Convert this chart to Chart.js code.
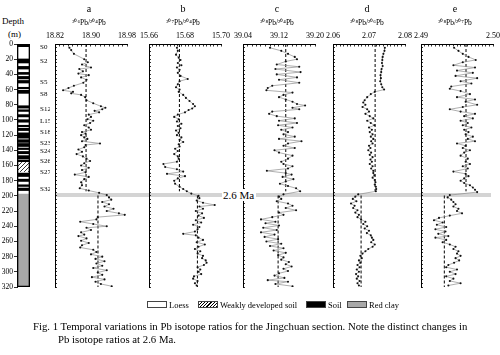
<!DOCTYPE html>
<html><head><meta charset="utf-8">
<script src="https://cdn.jsdelivr.net/npm/chart.js@4.4.1/dist/chart.umd.min.js"></script>
<style>
body{margin:0;width:500px;height:355px;position:relative;background:#fff;overflow:hidden;font-family:"Liberation Serif","Times New Roman",serif;color:#000}
canvas{position:absolute;top:0}
.t{position:absolute;white-space:nowrap;line-height:1;color:#000}
#band{position:absolute;left:55px;width:436px;background:#d4d4d4}
#ma{position:absolute;left:222px;top:189px;font-size:11px;background:#fff;padding:0 2px 0 1px;line-height:12px;color:#000}
.lg{position:absolute;top:301px;height:7px;border:1px solid #444;box-sizing:border-box}
.lt{position:absolute;top:300px;font-size:8.5px;line-height:10px;white-space:nowrap;color:#000}
.cap{position:absolute;font-size:10.75px;white-space:nowrap;line-height:12px;color:#000}
</style></head>
<body>
<div id="band"></div>
<div class="t" style="left:2px;top:17px;font-size:9px">Depth</div>
<div class="t" style="left:8px;top:30px;font-size:9px">(m)</div>

<canvas id="litho" width="50" height="300" style="left:0"></canvas>
<canvas id="pa" width="104" height="300"></canvas>
<canvas id="pb" width="104" height="300"></canvas>
<canvas id="pc" width="104" height="300"></canvas>
<canvas id="pd" width="104" height="300"></canvas>
<canvas id="pe" width="104" height="300"></canvas>
<div id="ma">2.6 Ma</div>

<div class="lg" style="left:147px;width:20px;background:#fff"></div>
<div class="lt" style="left:169px">Loess</div>
<div class="lg" style="left:198px;width:20px;background:repeating-linear-gradient(135deg,#fff 0 1.5px,#000 1.5px 2.3px)"></div>
<div class="lt" style="left:220px">Weakly developed soil</div>
<div class="lg" style="left:306px;width:20px;background:#000"></div>
<div class="lt" style="left:328px">Soil</div>
<div class="lg" style="left:347px;width:20px;background:#a8a8a8"></div>
<div class="lt" style="left:369px">Red clay</div>

<div class="cap" style="left:33px;top:320px">Fig. 1 Temporal variations in Pb isotope ratios for the Jingchuan section. Note the distinct changes in</div>
<div class="cap" style="left:58px;top:333px">Pb isotope ratios at 2.6 Ma.</div>

<script>
// ---------- depth axis ----------
const depthRange = [0, 320];
const depthTicks = [0,20,40,60,80,100,120,140,160,180,200,220,240,260,280,300,320];

// ---------- lithology ----------
const lithoTop    = [1.5,19.7,29.5,37.4,42.7,48,57,61,81.3,86.6,93,99.7,107,111,117,126,131,137,141.5,147,153,156,170,178,185.4,189.7,197.5];
const lithoBottom = [3.5,25,33,40,46,51.4,59,65,84.4,88.8,96,103,109,114,124,129.6,135,139,144.5,151.5,155,168,174.5,181,187.6,193,320];
const lithoType   = ['soil','soil','soil','soil','soil','soil','soil','soil','soil','soil','soil','soil','soil','soil','soil','soil','soil','soil','soil','soil','soil','weak','soil','soil','soil','soil','clay'];
const lithoLabelDepth = [4,22.5,50.5,66,86,102,116,130.5,140.5,153.8,168.7,190.7];
const lithoLabel = ['S0','S2','S5','S8','S12','L15','S18','S23','S24','S26','S27','S32'];

// ---------- 2.6 Ma boundary ----------
const bandDepth = [196.5, 202];
const dashUpper = [0, 194];
const dashLower = [199.5, 320];

// ---------- panel titles ----------
const panelLetters = ['a','b','c','d','e'];
const panelRatios = ['²⁰⁶Pb/²⁰⁴Pb','²⁰⁷Pb/²⁰⁴Pb','²⁰⁸Pb/²⁰⁴Pb','²⁰⁸Pb/²⁰⁶Pb','²⁰⁸Pb/²⁰⁷Pb'];

// ---------- panel a : 206Pb/204Pb ----------
const axisA = [18.82, 18.98, 0.01];
const tickLabelsA = ['18.82','18.90','18.98'];
const depthA = [5,8,13,20,24,27,31,33,36,39,41,44,47,51,55,58,61,63,65,67,70,74,78,82,84,86,88,90,93,96,99,101,104,107,110,113,116,118,120,123,125,128,131,133,136,139,142,145,148,151,154,157,160,163,166,169,172,175,178,182,186,190,193,196,
  199,202,205,208,211,214,217,220,223,225,228,231,234,237,240,242,245,248,251,253,256,259,262,265,268,271,274,277,280,283,286,289,292,295,298,301,304,307,310,313,316,319];
const valueA = [18.852,18.856,18.862,18.885,18.893,18.880,18.900,18.874,18.882,18.872,18.895,18.878,18.890,18.883,18.862,18.850,18.838,18.860,18.856,18.878,18.887,18.890,18.905,18.922,18.932,18.925,18.908,18.918,18.895,18.900,18.892,18.905,18.898,18.885,18.895,18.900,18.880,18.888,18.878,18.885,18.892,18.880,18.920,18.888,18.885,18.872,18.880,18.868,18.882,18.890,18.898,18.885,18.878,18.895,18.880,18.888,18.864,18.895,18.885,18.878,18.880,18.875,18.895,18.918,
  18.935,18.940,18.945,18.925,18.940,18.930,18.950,18.935,18.962,18.975,18.915,18.912,18.876,18.905,18.935,18.890,18.900,18.878,18.885,18.872,18.890,18.878,18.895,18.880,18.876,18.905,18.912,18.900,18.925,18.910,18.930,18.912,18.925,18.905,18.935,18.915,18.925,18.902,18.930,18.910,18.922,18.946];
const meanA = [18.889, 18.9155];

// ---------- panel b : 207Pb/204Pb ----------
const axisB = [15.66, 15.70, 0.002];
const tickLabelsB = ['15.66','15.68','15.70'];
const depthB = [5,9,14,18,21,25,28,31,34,38,42,46,49,53,57,60,63,67,71,75,79,82,85,87,90,93,96,99,102,105,108,111,114,117,120,123,126,129,132,135,138,141,145,148,151,155,158,162,165,168,171,174,177,180,184,188,191,194,197,
  200,203,206,209,212,214,217,220,223,226,229,232,235,238,241,244,247,250,252,255,258,261,264,267,270,273,276,279,282,285,288,291,294,297,300,303,306,309,312,315,318];
const valueB = [15.6755,15.6760,15.6750,15.6765,15.6775,15.6760,15.6780,15.6755,15.6770,15.6760,15.6775,15.6815,15.6770,15.6760,15.6750,15.6770,15.6765,15.6790,15.6805,15.6825,15.6845,15.6855,15.6840,15.6820,15.6800,15.6760,15.6740,15.6765,15.6755,15.6780,15.6760,15.6775,15.6750,15.6765,15.6755,15.6780,15.6770,15.6790,15.6765,15.6770,15.6745,15.6760,15.6740,15.6760,15.6765,15.6755,15.6680,15.6690,15.6755,15.6790,15.6700,15.6800,15.6760,15.6740,15.6745,15.6770,15.6790,15.6810,15.6835,
  15.6875,15.6880,15.6865,15.6900,15.6965,15.6880,15.6900,15.6860,15.6895,15.6875,15.6905,15.6860,15.6890,15.6845,15.6880,15.6870,15.6855,15.6790,15.6860,15.6875,15.6900,15.6865,15.6910,15.6875,15.6855,15.6885,15.6870,15.6900,15.6895,15.6915,15.6920,15.6905,15.6870,15.6885,15.6875,15.6890,15.6850,15.6845,15.6870,15.6855,15.6865];
const meanB = [15.6769, 15.6869];

// ---------- panel c : 208Pb/204Pb ----------
const axisC = [39.04, 39.20, 0.01];
const tickLabelsC = ['39.04','39.12','39.20'];
const depthC = [5,9,13,17,20,23,27,30,33,37,40,44,47,51,55,58,61,64,67,70,73,76,79,81,84,86,89,92,95,98,101,104,107,110,113,116,119,122,125,128,131,134,137,140,143,147,151,155,158,161,164,167,170,172,175,178,181,184,187,190,194,
  198,201,204,207,210,213,216,219,222,225,228,231,234,236,239,242,245,248,251,254,257,260,263,266,269,272,275,278,281,284,287,290,293,296,299,302,305,308,311,313,316,319];
const valueC = [39.100,39.125,39.140,39.155,39.160,39.135,39.115,39.165,39.112,39.168,39.115,39.160,39.120,39.165,39.105,39.095,39.092,39.150,39.130,39.120,39.135,39.150,39.160,39.178,39.150,39.165,39.105,39.098,39.115,39.155,39.120,39.160,39.118,39.150,39.125,39.140,39.130,39.155,39.120,39.170,39.140,39.130,39.155,39.110,39.120,39.150,39.140,39.125,39.130,39.150,39.140,39.093,39.135,39.148,39.128,39.152,39.135,39.122,39.140,39.158,39.167,
  39.130,39.120,39.125,39.115,39.140,39.150,39.135,39.158,39.120,39.130,39.105,39.080,39.112,39.090,39.120,39.085,39.115,39.080,39.110,39.088,39.118,39.092,39.125,39.100,39.130,39.108,39.135,39.118,39.130,39.125,39.142,39.135,39.148,39.130,39.140,39.120,39.110,39.132,39.095,39.140,39.112,39.150];
const meanC = [39.135, 39.118];

// ---------- panel d : 208Pb/206Pb ----------
const axisD = [2.06, 2.08, 0.001];
const tickLabelsD = ['2.06','2.07','2.08'];
const depthD = [5,9,13,17,21,25,29,33,37,41,45,49,53,57,60,63,66,70,74,77,80,83,86,89,92,95,98,101,104,107,110,113,116,119,122,125,128,131,134,137,140,143,146,149,152,155,158,161,164,167,170,173,176,179,182,185,188,191,194,
  198,201,204,207,210,213,216,219,222,225,228,231,234,237,240,243,246,249,252,255,258,261,264,267,270,273,276,279,282,285,288,291,294,297,300,303,306,309,312,315,318];
const valueD = [2.0744,2.0743,2.0740,2.0738,2.0737,2.0736,2.0738,2.0735,2.0734,2.0732,2.0733,2.0731,2.0734,2.0737,2.0742,2.0716,2.0705,2.0695,2.0688,2.0684,2.0690,2.0682,2.0695,2.0700,2.0690,2.0702,2.0712,2.0695,2.0705,2.0715,2.0700,2.0708,2.0702,2.0710,2.0705,2.0712,2.0706,2.0710,2.0700,2.0704,2.0698,2.0706,2.0702,2.0710,2.0704,2.0708,2.0702,2.0710,2.0706,2.0712,2.0712,2.0715,2.0710,2.0716,2.0718,2.0716,2.0719,2.0720,2.0719,
  2.0670,2.0662,2.0655,2.0665,2.0650,2.0660,2.0656,2.0668,2.0662,2.0672,2.0668,2.0678,2.0690,2.0684,2.0695,2.0688,2.0700,2.0694,2.0705,2.0708,2.0712,2.0706,2.0716,2.0710,2.0698,2.0690,2.0682,2.0676,2.0680,2.0672,2.0676,2.0668,2.0674,2.0666,2.0672,2.0664,2.0670,2.0666,2.0674,2.0668,2.0672];
const meanD = [2.0717, 2.0678];

// ---------- panel e : 208Pb/207Pb ----------
const axisE = [2.49, 2.50, 0.0005];
const tickLabelsE = ['2.49','2.50'];
const depthE = [5,9,13,17,21,24,28,31,35,38,42,45,49,52,56,59,62,66,70,73,76,80,83,86,89,92,95,98,101,104,107,110,113,116,119,122,125,128,131,134,137,140,143,147,151,155,158,161,164,168,171,174,177,180,183,186,189,192,195,
  199,202,205,208,211,214,217,220,223,226,229,232,235,238,241,244,247,250,253,255,258,261,264,267,270,273,276,279,282,285,288,291,294,297,300,303,306,309,312,315,318];
const valueE = [2.4946,2.4952,2.4958,2.4966,2.4976,2.4958,2.4945,2.4975,2.4950,2.4972,2.4948,2.4978,2.4955,2.4970,2.4942,2.4940,2.4955,2.4968,2.4950,2.4975,2.4962,2.4978,2.4958,2.4940,2.4955,2.4975,2.4960,2.4972,2.4955,2.4965,2.4958,2.4970,2.4960,2.4966,2.4962,2.4972,2.4965,2.4975,2.4950,2.4962,2.4958,2.4968,2.4960,2.4955,2.4965,2.4962,2.4968,2.4958,2.4965,2.4945,2.4962,2.4966,2.4960,2.4955,2.4960,2.4968,2.4972,2.4975,2.4978,
  2.4940,2.4937,2.4942,2.4945,2.4948,2.4945,2.4952,2.4950,2.4957,2.4940,2.4925,2.4918,2.4930,2.4922,2.4935,2.4920,2.4934,2.4924,2.4938,2.4920,2.4935,2.4930,2.4940,2.4948,2.4945,2.4952,2.4950,2.4955,2.4948,2.4953,2.4946,2.4938,2.4935,2.4950,2.4940,2.4948,2.4935,2.4945,2.4940,2.4955,2.4938];
const meanE = [2.49625, 2.49324];

// ---------- layout ----------
const panelLeft = [55, 149, 243, 333, 421];
const TOP = 44, BOTTOM = 287, CH = 300;
const serif = '"Liberation Serif", "Times New Roman", serif';

Chart.defaults.font.family = serif;
Chart.defaults.color = '#000';

function hatchPattern(){
  const c=document.createElement('canvas');c.width=4;c.height=4;
  const g=c.getContext('2d');g.fillStyle='#fff';g.fillRect(0,0,4,4);
  g.strokeStyle='#000';g.lineWidth=0.8;g.beginPath();
  g.moveTo(0,4);g.lineTo(4,0);g.moveTo(-1,1);g.lineTo(1,-1);g.moveTo(3,5);g.lineTo(5,3);g.stroke();
  return g.createPattern(c,'repeat');
}
const fills = {soil:'#000', weak:hatchPattern(), clay:'#a8a8a8'};

// ---------- lithology column ----------
const lithoSets = lithoTop.map((t,i)=>({
  data:[[t, lithoBottom[i]]], backgroundColor: fills[lithoType[i]], borderWidth:0,
  grouped:false, barPercentage:1, categoryPercentage:1
}));
new Chart(document.getElementById('litho'), {
  type:'bar',
  data:{labels:['col'], datasets:[
    {data:[depthRange], backgroundColor:'rgba(0,0,0,0)', borderColor:'#000', borderWidth:1, borderSkipped:false, grouped:false, barPercentage:1, categoryPercentage:1},
    ...lithoSets
  ]},
  options:{
    responsive:false, animation:false, events:[],
    layout:{padding:{top:TOP, bottom:CH-BOTTOM, left:0, right:0}},
    plugins:{legend:{display:false}, tooltip:{enabled:false}},
    scales:{
      x:{display:false, offset:true},
      y:{type:'linear', position:'left', reverse:true, min:depthRange[0], max:depthRange[1],
         afterBuildTicks:s=>{s.ticks=depthTicks.map(v=>({value:v}));},
         ticks:{font:{size:7.5}, padding:1, autoSkip:false},
         grid:{display:true, drawOnChartArea:false, drawTicks:true, tickLength:3, color:'#000', lineWidth:0.8},
         border:{display:true, color:'#000'},
         afterFit:s=>{s.width=17;}},
      y2:{axis:'y', type:'linear', position:'right', reverse:true, min:depthRange[0], max:depthRange[1],
         afterBuildTicks:s=>{s.ticks=lithoLabelDepth.map(v=>({value:v}));},
         ticks:{font:{size:7}, padding:2, autoSkip:false, callback:(v,i)=>lithoLabel[i]},
         grid:{display:false}, border:{display:false},
         afterFit:s=>{s.width=20;}}
    }
  }
});

// ---------- panels ----------
function makePanel(id, idx, axis, labels, depths, values, means){
  const cv = document.getElementById(id);
  const left = panelLeft[idx];
  cv.style.left = (left-16)+'px';
  const [mn, mx, step] = axis;
  const tickVals = [];
  for (let k=0; mn + k*step <= mx + step/100; k++) tickVals.push(+(mn + k*step).toFixed(6));
  return new Chart(cv, {
    type:'scatter',
    data:{datasets:[
      {data: depths.map((d,i)=>({x:values[i], y:d})), showLine:true, borderColor:'#8c8c8c', borderWidth:0.7,
       pointRadius:1.05, pointBackgroundColor:'#111', pointBorderWidth:0, tension:0},
      {data:[{x:means[0],y:dashUpper[0]},{x:means[0],y:dashUpper[1]}], showLine:true, borderColor:'#000', borderWidth:1, borderDash:[3,2], pointRadius:0},
      {data:[{x:means[1],y:dashLower[0]},{x:means[1],y:dashLower[1]}], showLine:true, borderColor:'#000', borderWidth:1, borderDash:[3,2], pointRadius:0}
    ]},
    options:{
      responsive:false, animation:false, events:[],
      layout:{padding:{top:2, bottom:CH-BOTTOM, left:12, right:16}},
      plugins:{legend:{display:false}, tooltip:{enabled:false},
        title:{display:true, text:panelLetters[idx], color:'#000', font:{size:10, weight:'normal'}, padding:{top:1, bottom:4}},
        subtitle:{display:true, text:panelRatios[idx], color:'#000', font:{size:7.5}, padding:{top:0, bottom:2}}},
      scales:{
        x:{type:'linear', position:'top', min:mn, max:mx,
           afterBuildTicks:s=>{s.ticks=tickVals.map(v=>({value:v}));},
           ticks:{font:{size:8}, padding:6, autoSkip:false, maxRotation:0,
             callback:(v)=>{const j=labels.findIndex(l=>Math.abs(parseFloat(l)-v)<step/10); return j>=0?labels[j]:'';}},
           grid:{drawOnChartArea:false, tickLength:-2.5, color:'#000', lineWidth:0.8},
           border:{color:'#000', width:1},
           afterFit:s=>{s.height=14;}},
        y:{type:'linear', position:'left', reverse:true, min:depthRange[0], max:depthRange[1],
           ticks:{display:false, stepSize:5},
           grid:{drawOnChartArea:false, tickLength:-2, color:'#000', lineWidth:0.8},
           border:{color:'#000', width:1},
           afterFit:s=>{s.width=4;}}
      }
    }
  });
}
const ca = makePanel('pa',0,axisA,tickLabelsA,depthA,valueA,meanA);
makePanel('pb',1,axisB,tickLabelsB,depthB,valueB,meanB);
makePanel('pc',2,axisC,tickLabelsC,depthC,valueC,meanC);
makePanel('pd',3,axisD,tickLabelsD,depthD,valueD,meanD);
makePanel('pe',4,axisE,tickLabelsE,depthE,valueE,meanE);

// band position from the depth scale
const ys = ca.scales.y;
const b0 = ys.getPixelForValue(bandDepth[0]), b1 = ys.getPixelForValue(bandDepth[1]);
const band = document.getElementById('band');
band.style.top = b0+'px'; band.style.height = (b1-b0)+'px';
</script>
</body></html>
